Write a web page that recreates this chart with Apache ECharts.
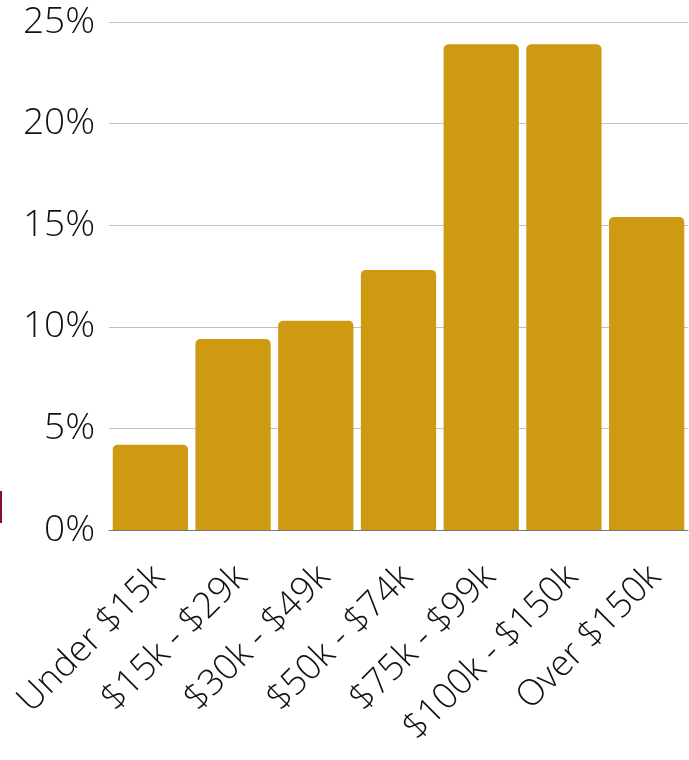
<!DOCTYPE html>
<html><head><meta charset="utf-8">
<script src="https://cdn.jsdelivr.net/npm/echarts@6/dist/echarts.min.js"></script>
<style>html,body{margin:0;padding:0;background:#fff}#c{width:689px;height:760px}</style>
</head><body><div id="c"></div>
<script>
const categories = ["Under $15k","$15k - $29k","$30k - $49k","$50k - $74k","$75k - $99k","$100k - $150k","Over $150k"];
const shares = [4.2, 9.4, 10.3, 12.8, 23.9, 23.9, 15.4];
const yTicks = [0, 5, 10, 15, 20, 25];

const chart = echarts.init(document.getElementById('c'));
chart.setOption({
  animation: false,
  grid: {left: 109, right: 1, top: 22, bottom: 230},
  xAxis: {
    type: 'category', data: categories,
    axisLine: {show: true, lineStyle: {color: '#777', width: 1}},
    axisTick: {show: false},
    axisLabel: {rotate: 45, interval: 0, margin: 50, padding: [0, -12, 0, 0], color: '#111', fontSize: 36, fontFamily: 'Open Sans', fontWeight: 300}
  },
  yAxis: {
    type: 'value', min: yTicks[0], max: yTicks[yTicks.length-1], interval: 5,
    axisLine: {show: false}, axisTick: {show: false},
    splitLine: {lineStyle: {color: '#c0c0c0', width: 1}},
    axisLabel: {formatter: '{value}%', margin: 14, color: '#111', fontSize: 37, fontFamily: 'Open Sans', fontWeight: 300}
  },
  series: [{
    type: 'bar', data: shares, barCategoryGap: '9%',
    itemStyle: {color: '#CE9A12', borderRadius: [5,5,0,0]}
  }],
  graphic: [{type: 'rect', left: 0, top: 491, shape: {width: 2, height: 32}, style: {fill: '#8B0A3C'}}]
});
</script></body></html>
